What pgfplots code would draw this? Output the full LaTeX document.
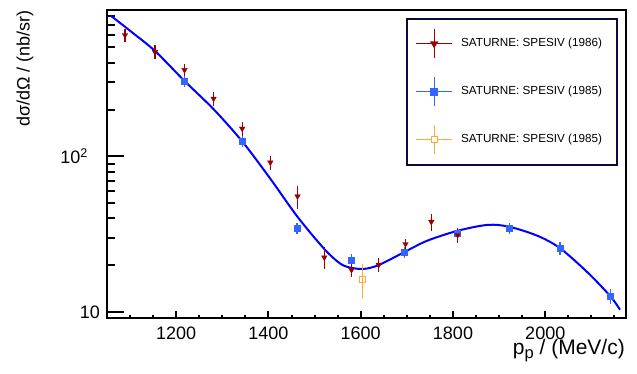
\documentclass[border=0pt]{standalone}
\usepackage{pgfplots}
\pgfplotsset{compat=1.18}
\usepackage{fontspec}
\setmainfont{Liberation Sans}
\definecolor{rred}{RGB}{153,0,0}
\definecolor{bpt}{RGB}{51,102,255}
\definecolor{orng}{RGB}{255,170,51}
\definecolor{leg}{RGB}{10,10,60}
\definecolor{fitb}{RGB}{0,0,255}
\begin{document}
\begin{tikzpicture}
\path[use as bounding box] (-107pt,-56pt) rectangle (530pt,318pt);
\begin{axis}[
  at={(0,0)}, anchor=south west,
  scale only axis, width=519pt, height=308pt,
  ymode=log, xmin=1050, xmax=2175, ymin=9.2, ymax=870,
  axis line style={line width=2.5pt},
  tick align=inside, tick pos=left,
  xtick={1200,1400,1600,1800,2000},
  xticklabels={1200,1400,1600,1800,2000},
  minor xtick={1100,1150,1250,1300,1350,1450,1500,1550,1650,1700,1750,1850,1900,1950,2050,2100,2150},
  ytick={10,100},
  yticklabels={10,{10\textsuperscript{2}\kern12pt}},
  minor ytick={20,30,40,50,60,70,80,90,200,300,400,500,600,700,800},
  major tick length=7pt, minor tick length=3.5pt,
  every major y tick/.append style={/pgfplots/major tick length=17pt},
  every minor y tick/.append style={/pgfplots/minor tick length=8.5pt},
  tick style={line width=2pt, black},
  /pgf/number format/assume math mode=true,
  x tick label style={font=\fontsize{18}{18}\selectfont, inner sep=0pt, anchor=north, yshift=-9pt},
  y tick label style={font=\fontsize{18}{18}\selectfont, inner sep=0pt, anchor=east, xshift=-7pt},
  xlabel={p\raisebox{-4pt}{\fontsize{16.5}{16.5}\selectfont p} / (MeV/c)},
  xlabel style={at={(axis description cs:1,0)}, anchor=base east, inner sep=0pt, yshift=-36.5pt, xshift=-1pt, font=\fontsize{21}{21}\selectfont},
  ylabel={dσ/dΩ / (nb/sr)},
  every axis y label/.style={at={(axis description cs:-0.158,1)}, rotate=90, anchor=east, inner sep=0pt, font=\fontsize{18}{18}\selectfont},
  legend style={at={(axis description cs:0.9846,0.974)}, anchor=north east, draw=leg, line width=2pt, fill=white,
    inner xsep=8pt, inner ysep=19.5pt, row sep=37.5pt, column sep=8pt,
    font=\fontsize{11.7}{11.7}\selectfont,
    nodes={inner sep=0pt, text height=8pt, text depth=2.5pt}},
  legend cell align=left,
  reverse legend,
  error bars/error bar style={line width=1.2pt},
]
\addplot[fitb, line width=2pt, smooth, tension=0.5, forget plot] coordinates {
(1058,800) (1100,640) (1154,475) (1218,305) (1281,201) (1343,125) (1404,72)
(1463,41) (1521,25.5) (1556,20.5) (1580,19.3) (1607,19.0) (1639,20.1)
(1695,24.4) (1744,28.8) (1809,33.3) (1875,36.4) (1922,35.4) (1983,31.0)
(2032,25.8) (2092,18.0) (2141,12.7) (2162,10.4)};

\addplot[orng, only marks, mark=square, mark size=3pt, mark options={line width=1pt},
  error bars/.cd, y dir=both, y explicit, error mark=none,
  error bar style={line width=1.2pt, orng},
  /pgfplots/legend image code/.code={
    \draw[overlay, line width=1.2pt, orng] (0pt,0pt) -- (36pt,0pt);
    \draw[overlay, line width=1.2pt, orng] (18pt,-14.5pt) -- (18pt,14.5pt);
    \draw[orng, line width=1pt, fill=white] (15pt,-3pt) rectangle (21pt,3pt);
    \path (0pt,0pt) (36pt,0pt);
  }] coordinates {(1603,16.3) +- (0,4.1)};
\addlegendentry{SATURNE: SPESIV (1985)\kern7pt}

\addplot[bpt, only marks, mark=square*, mark size=3pt,
  error bars/.cd, y dir=both, y explicit, error mark=none,
  error bar style={line width=1.2pt, bpt},
  /pgfplots/legend image code/.code={
    \draw[overlay, line width=1.2pt, bpt] (0pt,0pt) -- (36pt,0pt);
    \draw[overlay, line width=1.2pt, bpt] (18pt,-14.5pt) -- (18pt,14.5pt);
    \fill[bpt] (15pt,-3pt) rectangle (21pt,3pt);
    \path (0pt,0pt) (36pt,0pt);
  }] coordinates {
(1218,305) +- (0,24)
(1343,125) +- (0,10)
(1462,34.7) +- (0,3)
(1580,21.7) +- (0,2)
(1695,24.4) +- (0,2)
(1810,32) +- (0,2.2)
(1922,34.7) +- (0,3)
(2032,25.8) +- (0,2.4)
(2141,12.7) +- (0,1.35)};
\addlegendentry{SATURNE: SPESIV (1985)\kern7pt}

\addplot[rred, only marks, mark=triangle*, mark size=3.2pt, mark options={rotate=180},
  error bars/.cd, y dir=both, y explicit, error mark=none,
  error bar style={line width=1.2pt, rred},
  /pgfplots/legend image code/.code={
    \draw[overlay, line width=1.2pt, rred] (0pt,0pt) -- (36pt,0pt);
    \draw[overlay, line width=1.2pt, rred] (18pt,-14.5pt) -- (18pt,14.5pt);
    \fill[rred] (15.5pt,1.5pt) -- (20.5pt,1.5pt) -- (18pt,-2.5pt) -- cycle;
    \path (0pt,0pt) (36pt,0pt);
  }] coordinates {
(1089,600) +- (0,55)
(1154,468) +- (0,48)
(1218,359) +- (0,31)
(1281,235) +- (0,23)
(1343,151) +- (0,16)
(1404,91.5) +- (0,9.3)
(1463,55.5) +- (0,9.4)
(1521,22.5) +- (0,3.6)
(1580,18.7) +- (0,1.8)
(1639,20.2) +- (0,2)
(1697,27.4) +- (0,2)
(1753,38.1) +- (0,4.7)
(1810,31.3) +- (0,3.3)};
\addlegendentry{SATURNE: SPESIV (1986)\kern7pt}
\end{axis}
\end{tikzpicture}
\end{document}
